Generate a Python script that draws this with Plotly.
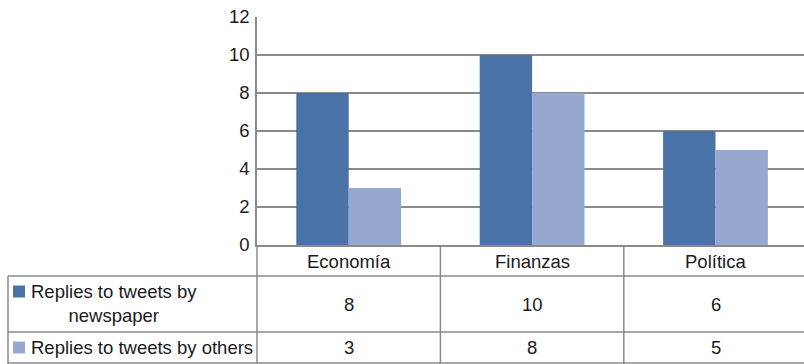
import plotly.graph_objects as go

# Data
categories = ["Economía", "Finanzas", "Política"]
series_names = ["Replies to tweets by<br>newspaper", "Replies to tweets by others"]
newspaper = [8, 10, 6]
others = [3, 8, 5]
y_ticks = [0, 2, 4, 6, 8, 10, 12]

colors = ["#4A72A6", "#95A9D0"]
W, H = 804, 364
L, T, B = 257, 17, 119
PLOT_W = W - L
PLOT_H = H - T - B
FONT = "Liberation Sans, Arial, sans-serif"
FS = 18.5
TXT = "#1a1a1a"
LINE = "#8a8a8a"


def px_x(p):
    return (p - L) / PLOT_W


def px_y(p):
    return (H - B - p) / PLOT_H


# category width in pixels -> visible x range (last column runs past the edge)
cat_w = 183.4
x_max = -0.5 + PLOT_W / cat_w

fig = go.Figure()
for name, vals, col in zip(series_names, [newspaper, others], colors):
    fig.add_trace(go.Bar(x=list(range(len(categories))), y=vals, name=name,
                         marker=dict(color=col, line=dict(width=0)),
                         showlegend=False))

fig.update_layout(
    width=W, height=H,
    margin=dict(l=L, r=0, t=T, b=B, pad=0),
    paper_bgcolor="white", plot_bgcolor="white",
    barmode="group", bargap=1.5 / 3.5, bargroupgap=0,
    font=dict(family=FONT, size=FS, color=TXT),
    xaxis=dict(range=[-0.5, x_max], showticklabels=False, showgrid=False,
               zeroline=False, showline=True, linecolor=LINE, linewidth=1.5,
               fixedrange=True),
    yaxis=dict(range=[0, 12], tickvals=y_ticks, showgrid=True, gridcolor=LINE,
               gridwidth=1.5, zeroline=False, showline=True, linecolor=LINE,
               linewidth=1.5, ticks="", ticklabelstandoff=2,
               tickfont=dict(family=FONT, size=FS, color=TXT)),
)

shapes = []
annotations = []

# data table grid
row_tops = [245, 276, 332, 363]
# horizontal rules below the header row
for yp in row_tops[1:]:
    shapes.append(dict(type="line", xref="paper", yref="paper",
                       x0=px_x(8), x1=1.0, y0=px_y(yp), y1=px_y(yp),
                       line=dict(color=LINE, width=1.5)))
# axis line continued down through the table
shapes.append(dict(type="line", xref="paper", yref="paper",
                   x0=0, x1=0, y0=0, y1=px_y(364),
                   line=dict(color=LINE, width=1.5)))
# left edge of the series label column
shapes.append(dict(type="line", xref="paper", yref="paper",
                   x0=px_x(8), x1=px_x(8), y0=px_y(276), y1=px_y(364),
                   line=dict(color=LINE, width=1.5)))
# column separators at category boundaries
for i in range(1, len(categories)):
    shapes.append(dict(type="line", xref="x", yref="paper",
                       x0=i - 0.5, x1=i - 0.5, y0=0, y1=px_y(364),
                       line=dict(color=LINE, width=1.5)))

# header row: category names
for i, c in enumerate(categories):
    annotations.append(dict(x=i, y=px_y(261), xref="x", yref="paper",
                            text=c, showarrow=False, xanchor="center",
                            yanchor="middle"))

# value rows
row_centers = [304, 347.5]
for vals, yc in zip([newspaper, others], row_centers):
    for i, v in enumerate(vals):
        annotations.append(dict(x=i, y=px_y(yc), xref="x", yref="paper",
                                text=str(v), showarrow=False,
                                xanchor="center", yanchor="middle"))

# series labels with colour keys
key_centers = [291.5, 347.5]
for name, col, yc in zip(series_names, colors, key_centers):
    shapes.append(dict(type="rect", xref="paper", yref="paper",
                       x0=px_x(13), x1=px_x(25), y0=px_y(yc - 6), y1=px_y(yc + 6),
                       fillcolor=col, line=dict(width=0)))
annotations.append(dict(x=px_x(114), y=px_y(303), xref="paper", yref="paper",
                        text=series_names[0], showarrow=False, align="center",
                        xanchor="center", yanchor="middle"))
annotations.append(dict(x=px_x(29), y=px_y(347.5), xref="paper", yref="paper",
                        text=series_names[1], showarrow=False, align="left",
                        xanchor="left", yanchor="middle"))

fig.update_layout(shapes=shapes, annotations=annotations)
fig.write_html("out.html")
